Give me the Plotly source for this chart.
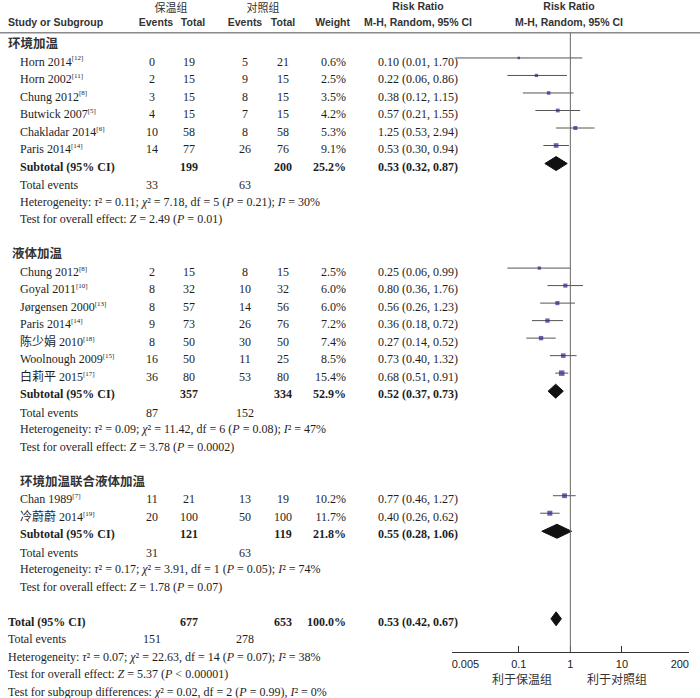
import math
import plotly.graph_objects as go

# ---------------- data ----------------
group_titles = ["环境加温", "液体加温", "环境加温联合液体加温"]

g1_names = ["Horn 2014", "Horn 2002", "Chung 2012", "Butwick 2007", "Chakladar 2014", "Paris 2014"]
g1_refs = ["12", "11", "8", "5", "6", "14"]
g1_e1 = [0, 2, 3, 4, 10, 14]
g1_n1 = [19, 15, 15, 15, 58, 77]
g1_e2 = [5, 9, 8, 7, 8, 26]
g1_n2 = [21, 15, 15, 15, 58, 76]
g1_w = [0.6, 2.5, 3.5, 4.2, 5.3, 9.1]
g1_rr = [0.10, 0.22, 0.38, 0.57, 1.25, 0.53]
g1_lo = [0.006, 0.06, 0.12, 0.21, 0.53, 0.30]
g1_hi = [1.70, 0.86, 1.15, 1.55, 2.94, 0.94]

g2_names = ["Chung 2012", "Goyal 2011", "Jørgensen 2000", "Paris 2014", "陈少娟 2010", "Woolnough 2009", "白莉平 2015"]
g2_refs = ["8", "10", "13", "14", "18", "15", "17"]
g2_e1 = [2, 8, 8, 9, 8, 16, 36]
g2_n1 = [15, 32, 57, 73, 50, 50, 80]
g2_e2 = [8, 10, 14, 26, 30, 11, 53]
g2_n2 = [15, 32, 56, 76, 50, 25, 80]
g2_w = [2.5, 6.0, 6.0, 7.2, 7.4, 8.5, 15.4]
g2_rr = [0.25, 0.80, 0.56, 0.36, 0.27, 0.73, 0.68]
g2_lo = [0.06, 0.36, 0.26, 0.18, 0.14, 0.40, 0.51]
g2_hi = [0.99, 1.76, 1.23, 0.72, 0.52, 1.32, 0.91]

g3_names = ["Chan 1989", "冷蔚蔚 2014"]
g3_refs = ["7", "19"]
g3_e1 = [11, 20]
g3_n1 = [21, 100]
g3_e2 = [13, 50]
g3_n2 = [19, 100]
g3_w = [10.2, 11.7]
g3_rr = [0.77, 0.40]
g3_lo = [0.46, 0.26]
g3_hi = [1.27, 0.62]

sub_n1 = [199, 357, 121]
sub_n2 = [200, 334, 119]
sub_w = [25.2, 52.9, 21.8]
sub_rr = [0.53, 0.52, 0.55]
sub_lo = [0.32, 0.37, 0.28]
sub_hi = [0.87, 0.73, 1.06]
sub_ev1 = [33, 87, 31]
sub_ev2 = [63, 152, 63]
sub_het = [
    "<i>τ</i>² = 0.11; <i>χ</i>² = 7.18, df = 5 (<i>P</i> = 0.21); <i>I</i>² = 30%",
    "<i>τ</i>² = 0.09; <i>χ</i>² = 11.42, df = 6 (<i>P</i> = 0.08); <i>I</i>² = 47%",
    "<i>τ</i>² = 0.17; <i>χ</i>² = 3.91, df = 1 (<i>P</i> = 0.05); <i>I</i>² = 74%",
]
sub_z = ["<i>Z</i> = 2.49 (<i>P</i> = 0.01)", "<i>Z</i> = 3.78 (<i>P</i> = 0.0002)", "<i>Z</i> = 1.78 (<i>P</i> = 0.07)"]

tot_n1, tot_n2, tot_w = 677, 653, 100.0
tot_rr, tot_lo, tot_hi = 0.53, 0.42, 0.67
tot_ev1, tot_ev2 = 151, 278
tot_het = "<i>τ</i>² = 0.07; <i>χ</i>² = 22.63, df = 14 (<i>P</i> = 0.07); <i>I</i>² = 38%"
tot_z = "<i>Z</i> = 5.37 (<i>P</i> &lt; 0.00001)"
subgroup_diff = "<i>χ</i>² = 0.02, df = 2 (<i>P</i> = 0.99), <i>I</i>² = 0%"

tick_vals = [0.005, 0.1, 1, 10, 200]
tick_text = ["0.005", "0.1", "1", "10", "200"]
favours = ["利于保温组", "利于对照组"]

groups = [
    dict(names=g1_names, refs=g1_refs, e1=g1_e1, n1=g1_n1, e2=g1_e2, n2=g1_n2, w=g1_w, rr=g1_rr, lo=g1_lo, hi=g1_hi),
    dict(names=g2_names, refs=g2_refs, e1=g2_e1, n1=g2_n1, e2=g2_e2, n2=g2_n2, w=g2_w, rr=g2_rr, lo=g2_lo, hi=g2_hi),
    dict(names=g3_names, refs=g3_refs, e1=g3_e1, n1=g3_n1, e2=g3_e2, n2=g3_n2, w=g3_w, rr=g3_rr, lo=g3_lo, hi=g3_hi),
]

# ---------------- layout constants ----------------
W, H = 700, 698
ROW0_PX, ROW_PX = 45.0, 17.51
def px2row(py):
    return (py - ROW0_PX) / ROW_PX

SERIF = "Liberation Serif, Noto Sans CJK SC, serif"
SANS = "Liberation Sans, Arial, sans-serif"
CJK = "Noto Sans CJK SC, sans-serif"
TXT = "#1e1e1e"
HTXT = "#333333"
BODY = 12
HEAD = 10.5

X_NAME, X_E1, X_N1, X_E2, X_N2, X_W, X_CI = 20, 152, 189, 245, 283, 346, 418
GROUP_X = [8, 12, 20]
FOREST_DY = -0.26  # marks sit slightly above the text centre

POS = {"left": "middle right", "center": "middle center", "right": "middle left"}
T = dict(x=[], y=[], text=[], pos=[], size=[], family=[], color=[])
def txt(x, y, s, anchor="left", size=BODY, family=SERIF, color=TXT):
    T["x"].append(x); T["y"].append(y); T["text"].append(s); T["pos"].append(POS[anchor])
    T["size"].append(size); T["family"].append(family); T["color"].append(color)

def ci_text(rr, lo, hi):
    return f"{rr:.2f} ({lo:.2f}, {hi:.2f})"

def sup(ref):
    return f"<sup><span style='font-size:7px'>[{ref}]</span></sup>"

# headers
hy1, hy2 = px2row(9.5), px2row(23)
txt(171, hy1, "保温组", "center", 11, CJK, HTXT)
txt(263, hy1, "对照组", "center", 11, CJK, HTXT)
txt(418, px2row(7.5), "<b>Risk Ratio</b>", "center", HEAD, SANS, HTXT)
txt(569, px2row(7.5), "<b>Risk Ratio</b>", "center", HEAD, SANS, HTXT)
txt(8, hy2, "<b>Study or Subgroup</b>", "left", HEAD, SANS, HTXT)
txt(X_E1 + 4, hy2, "<b>Events</b>", "center", HEAD, SANS, HTXT)
txt(X_N1 + 4, hy2, "<b>Total</b>", "center", HEAD, SANS, HTXT)
txt(X_E2, hy2, "<b>Events</b>", "center", HEAD, SANS, HTXT)
txt(X_N2, hy2, "<b>Total</b>", "center", HEAD, SANS, HTXT)
txt(350, hy2, "<b>Weight</b>", "right", HEAD, SANS, HTXT)
txt(418, hy2, "<b>M-H, Random, 95% CI</b>", "center", HEAD, SANS, HTXT)
txt(569, hy2, "<b>M-H, Random, 95% CI</b>", "center", HEAD, SANS, HTXT)

# rows
pt_x, pt_y, pt_w = [], [], []
ln_x, ln_y = [], []
diamonds = []
r = 0
for gi, g in enumerate(groups):
    txt(GROUP_X[gi], r, f"<b>{group_titles[gi]}</b>", "left", 12.5, CJK, HTXT)
    r += 1
    for i, nm in enumerate(g["names"]):
        txt(X_NAME, r, nm + sup(g["refs"][i]))
        txt(X_E1, r, str(g["e1"][i]), "center")
        txt(X_N1, r, str(g["n1"][i]), "center")
        txt(X_E2, r, str(g["e2"][i]), "center")
        txt(X_N2, r, str(g["n2"][i]), "center")
        txt(X_W, r, f"{g['w'][i]:.1f}%", "right")
        txt(X_CI, r, ci_text(g["rr"][i], g["lo"][i], g["hi"][i]), "center")
        pt_x.append(g["rr"][i]); pt_y.append(r + FOREST_DY); pt_w.append(g["w"][i])
        ln_x += [g["lo"][i], g["hi"][i], None]; ln_y += [r + FOREST_DY, r + FOREST_DY, None]
        r += 1
    txt(X_NAME, r, "<b>Subtotal (95% CI)</b>")
    txt(X_N1, r, f"<b>{sub_n1[gi]}</b>", "center")
    txt(X_N2, r, f"<b>{sub_n2[gi]}</b>", "center")
    txt(X_W, r, f"<b>{sub_w[gi]:.1f}%</b>", "right")
    txt(X_CI, r, f"<b>{ci_text(sub_rr[gi], sub_lo[gi], sub_hi[gi])}</b>", "center")
    diamonds.append((sub_rr[gi], sub_lo[gi], sub_hi[gi], r + FOREST_DY + 0.03))
    r += 1
    txt(X_NAME, r + 0.05, "Total events")
    txt(X_E1, r + 0.05, str(sub_ev1[gi]), "center")
    txt(X_E2, r + 0.05, str(sub_ev2[gi]), "center")
    r += 1
    txt(X_NAME, r, "Heterogeneity: " + sub_het[gi])
    r += 1
    txt(X_NAME, r, "Test for overall effect: " + sub_z[gi])
    r += 2

txt(8, r, "<b>Total (95% CI)</b>")
txt(X_N1, r, f"<b>{tot_n1}</b>", "center")
txt(X_N2, r, f"<b>{tot_n2}</b>", "center")
txt(X_W, r, f"<b>{tot_w:.1f}%</b>", "right")
txt(X_CI, r, f"<b>{ci_text(tot_rr, tot_lo, tot_hi)}</b>", "center")
diamonds.append((tot_rr, tot_lo, tot_hi, r + FOREST_DY + 0.03))
r += 1
txt(8, r, "Total events")
txt(X_E1, r, str(tot_ev1), "center")
txt(X_E2, r, str(tot_ev2), "center")
r += 1
txt(8, r, "Heterogeneity: " + tot_het)
r += 1
txt(8, r, "Test for overall effect: " + tot_z)
r += 1
txt(8, r, "Test for subgroup differences: " + subgroup_diff)

# favours labels
fy = px2row(681)
txt(522, fy, favours[0], "center", 12, CJK, HTXT)
txt(617, fy, favours[1], "center", 12, CJK, HTXT)

fig = go.Figure()
# table text (pixel-column axis x2)
fig.add_trace(go.Scatter(x=T["x"], y=T["y"], xaxis="x2", yaxis="y", mode="text", text=T["text"],
                         textposition=T["pos"],
                         textfont=dict(size=T["size"], family=T["family"], color=T["color"]),
                         hoverinfo="skip", showlegend=False))
# CI whiskers
fig.add_trace(go.Scatter(x=ln_x, y=ln_y, mode="lines", line=dict(color="#555555", width=1),
                         hoverinfo="skip", showlegend=False))
# point estimates
fig.add_trace(go.Scatter(x=pt_x, y=pt_y, mode="markers",
                         marker=dict(symbol="square", color="#34208c",
                                     size=[1.8 + 0.95 * math.sqrt(w) for w in pt_w], line=dict(width=0)),
                         showlegend=False))
# pooled diamonds
HALF = 0.4
for est, lo, hi, yy in diamonds:
    fig.add_trace(go.Scatter(x=[lo, est, hi, est, lo], y=[yy, yy - HALF, yy, yy + HALF, yy],
                             mode="lines", fill="toself", fillcolor="#111111",
                             line=dict(color="#111111", width=1), showlegend=False, hoverinfo="skip"))
# tick labels (ends kept inside the axis, as in the original)
tick_pos = ["middle right"] + ["middle center"] * (len(tick_vals) - 2) + ["middle left"]
fig.add_trace(go.Scatter(x=tick_vals, y=[px2row(665)] * len(tick_vals), mode="text", text=tick_text,
                         textposition=tick_pos, textfont=dict(family=SANS, size=11, color="#222"),
                         hoverinfo="skip", showlegend=False))

AXIS_Y = 1 - 652 / H
HEAD_LINE = 1 - 32.7 / H
fig.update_layout(
    width=W, height=H, margin=dict(l=0, r=0, t=0, b=0),
    paper_bgcolor="white", plot_bgcolor="rgba(0,0,0,0)",
    xaxis=dict(type="log", domain=[451.7 / W, 689.0 / W],
               range=[math.log10(tick_vals[0]), math.log10(tick_vals[-1])],
               anchor="free", position=AXIS_Y,
               tickvals=tick_vals, showticklabels=False, ticks="inside", ticklen=6,
               tickcolor="#333", showline=True, linecolor="#333", linewidth=1,
               showgrid=False, zeroline=False),
    xaxis2=dict(range=[0, W], domain=[0, 1], anchor="y", visible=False),
    yaxis=dict(range=[px2row(H), px2row(0)], visible=False, domain=[0, 1]),
    shapes=[
        dict(type="line", xref="paper", yref="paper", x0=0, x1=1, y0=HEAD_LINE, y1=HEAD_LINE,
             line=dict(color="#8a8a8a", width=1.5)),
        dict(type="line", xref="x", yref="paper", x0=1, x1=1, y0=AXIS_Y, y1=HEAD_LINE,
             line=dict(color="#6e6464", width=1)),
    ],
)

fig.write_html("out.html", config={"displayModeBar": False},
               post_script="document.body.style.margin='0px';")
